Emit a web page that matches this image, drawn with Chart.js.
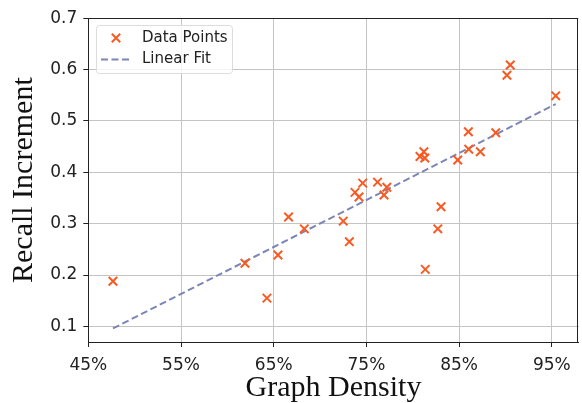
<!DOCTYPE html>
<html>
<head>
<meta charset="utf-8">
<script src="https://cdn.jsdelivr.net/npm/chart.js@4.4.1/dist/chart.umd.min.js"></script>
<style>
  html, body { margin: 0; padding: 0; background: #fff; }
  #wrap { width: 582px; height: 403px; position: relative; }
</style>
</head>
<body>
<div id="wrap"><canvas id="c" width="582" height="403"></canvas></div>
<script>
// Graph density (%) and recall increment for each data point
const densityX = [47.66, 61.9, 64.27, 65.46, 66.6, 68.3, 72.5, 73.16, 73.77, 74.2, 74.6,
                  76.2, 76.9, 77.2, 80.78, 81.2, 81.3, 81.35, 82.7, 83.05, 84.85, 86.0,
                  86.04, 87.29, 88.95, 90.16, 90.52, 95.42];
const recallY  = [0.188, 0.223, 0.155, 0.239, 0.313, 0.290, 0.305, 0.265, 0.361, 0.352, 0.379,
                  0.381, 0.356, 0.371, 0.431, 0.440, 0.428, 0.211, 0.290, 0.333, 0.424, 0.479,
                  0.445, 0.440, 0.477, 0.589, 0.609, 0.549];
// Linear fit endpoints
const fitX = [47.66, 95.42];
const fitY = [0.096, 0.533];
// Tick labels
const xTicks = [45, 55, 65, 75, 85, 95];
const yTicks = [0.1, 0.2, 0.3, 0.4, 0.5, 0.6, 0.7];
const seriesNames = ['Data Points', 'Linear Fit'];
const axisTitles = { x: 'Graph Density', y: 'Recall Increment' };

const POINT_COLOR = '#F85A22';
const LINE_COLOR = '#7C86B6';

const scatterData = densityX.map((x, i) => ({ x: x, y: recallY[i] }));
const fitData = fitX.map((x, i) => ({ x: x, y: fitY[i] }));

const framePlugin = {
  id: 'frame',
  afterDraw(chart) {
    const { ctx, chartArea: a } = chart;
    ctx.save();
    ctx.strokeStyle = '#222';
    ctx.lineWidth = 1;
    ctx.strokeRect(Math.round(a.left) + 0.5, Math.round(a.top) + 0.5,
                   Math.round(a.right - a.left) - 1, Math.round(a.bottom - a.top));
    // legend
    const lx = 96, ly = 25, lw = 136, lh = 48;
    ctx.fillStyle = 'rgba(255,255,255,0.8)';
    ctx.strokeStyle = '#dcdcdc';
    ctx.lineWidth = 1;
    ctx.beginPath();
    if (ctx.roundRect) ctx.roundRect(lx + 0.5, ly + 0.5, lw, lh, 3); else ctx.rect(lx + 0.5, ly + 0.5, lw, lh);
    ctx.fill();
    ctx.stroke();
    // marker
    ctx.strokeStyle = POINT_COLOR;
    ctx.lineWidth = 2;
    const mx = 116, my = 38, r = 4.2;
    ctx.beginPath();
    ctx.moveTo(mx - r, my - r); ctx.lineTo(mx + r, my + r);
    ctx.moveTo(mx - r, my + r); ctx.lineTo(mx + r, my - r);
    ctx.stroke();
    // dashed line sample
    ctx.strokeStyle = LINE_COLOR;
    ctx.setLineDash([7, 3.5]);
    ctx.beginPath();
    ctx.moveTo(101, 59.5); ctx.lineTo(131, 59.5);
    ctx.stroke();
    ctx.setLineDash([]);
    ctx.fillStyle = '#222';
    ctx.font = '15px "DejaVu Sans"';
    ctx.textBaseline = 'middle';
    ctx.textAlign = 'left';
    ctx.fillText(seriesNames[0], 142, 38);
    ctx.fillText(seriesNames[1], 142, 59.5);
    ctx.restore();
  }
};

new Chart(document.getElementById('c'), {
  type: 'scatter',
  data: {
    datasets: [
      {
        label: seriesNames[0],
        data: scatterData,
        pointStyle: 'crossRot',
        pointRadius: 6,
        pointHoverRadius: 6,
        borderColor: POINT_COLOR,
        backgroundColor: POINT_COLOR,
        pointBorderWidth: 2,
        showLine: false,
        order: 1
      },
      {
        label: seriesNames[1],
        type: 'line',
        data: fitData,
        borderColor: LINE_COLOR,
        borderWidth: 2,
        borderDash: [7, 3.5],
        pointRadius: 0,
        fill: false,
        order: 2
      }
    ]
  },
  options: {
    responsive: false,
    animation: false,
    devicePixelRatio: 1,
    layout: { autoPadding: false, padding: { left: 0, right: 3.3, top: 18.3, bottom: 0 } },
    plugins: { legend: { display: false }, tooltip: { enabled: false } },
    scales: {
      x: {
        type: 'linear',
        min: 45,
        max: 97.9,
        afterBuildTicks(s) { s.ticks = xTicks.map(v => ({ value: v })); },
        afterFit(s) { s.height = 61; s.paddingLeft = 0; s.paddingRight = 0; },
        grid: { color: '#c4c4c4', lineWidth: 1, tickColor: '#222', tickLength: 5, drawOnChartArea: true },
        border: { color: '#222', width: 1 },
        ticks: {
          color: '#222',
          font: { family: 'DejaVu Sans', size: 17 },
          padding: 8,
          maxRotation: 0,
          callback: v => v + '%'
        },
        title: {
          display: true,
          text: axisTitles.x,
          color: '#111',
          font: { family: 'Liberation Serif', size: 30 },
          padding: { top: 0, bottom: -3 }
        }
      },
      y: {
        type: 'linear',
        min: 0.0696,
        max: 0.7,
        afterBuildTicks(s) { s.ticks = yTicks.map(v => ({ value: v })); },
        afterFit(s) { s.width = 88.3; s.paddingTop = 0; s.paddingBottom = 0; },
        grid: { color: '#c4c4c4', lineWidth: 1, tickColor: '#222', tickLength: 5 },
        border: { color: '#222', width: 1 },
        ticks: {
          color: '#222',
          font: { family: 'DejaVu Sans', size: 17 },
          padding: 6,
          callback: v => v.toFixed(1)
        },
        title: {
          display: true,
          text: axisTitles.y,
          color: '#111',
          font: { family: 'Liberation Serif', size: 30 },
          padding: { top: 6, bottom: 0 }
        }
      }
    }
  },
  plugins: [framePlugin]
});
</script>
</body>
</html>
